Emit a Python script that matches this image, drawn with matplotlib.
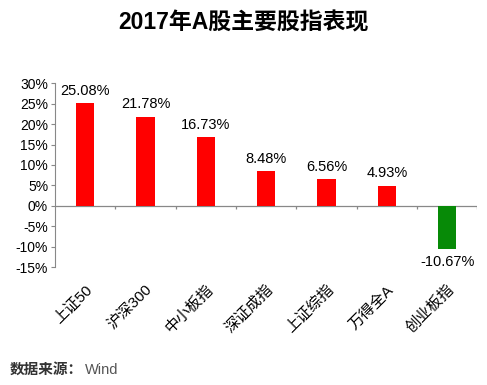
import matplotlib
matplotlib.use('Agg')
import matplotlib.pyplot as plt
import numpy as np
from matplotlib.ticker import FuncFormatter

# 数据
categories = ['上证50', '沪深300', '中小板指', '深证成指', '上证综指', '万得全A', '创业板指']
returns = [25.08, 21.78, 16.73, 8.48, 6.56, 4.93, -10.67]

plt.rcParams['font.family'] = ['Liberation Sans', 'Noto Sans CJK SC', 'DejaVu Sans']

fig = plt.figure(figsize=(4.87, 3.85), dpi=100)
ax = fig.add_axes([0.113, 0.306, 0.867, 0.478])

x = np.arange(len(categories))
colors = ['#ff0000' if v >= 0 else '#078a07' for v in returns]
ax.bar(x, returns, width=0.3, color=colors, zorder=2)

for xi, v in zip(x, returns):
    if v >= 0:
        ax.text(xi, v + 1.3, f'{v:.2f}%', ha='center', va='bottom', fontsize=10.5)
    else:
        ax.text(xi, v - 1.3, f'{v:.2f}%', ha='center', va='top', fontsize=10.5)

# 零轴和分类间隔刻度
ax.axhline(0, color='#888888', linewidth=0.9, zorder=1)
bounds = np.arange(len(categories)) + 0.5
ax.vlines(bounds, -0.7, 0, color='#888888', linewidth=0.9)

ax.set_xlim(-0.5, len(categories) - 0.5)
ax.set_ylim(-15, 30)
ax.set_yticks(np.arange(-15, 31, 5))
ax.yaxis.set_major_formatter(FuncFormatter(lambda v, p: f'{int(v)}%'))
ax.tick_params(axis='y', labelsize=10, length=3, color='#888888', pad=2)

ax.set_xticks(x)
ax.set_xticklabels(categories, rotation=45, ha='right', rotation_mode='anchor', fontsize=11)
ax.tick_params(axis='x', length=0, pad=11)

for s in ['top', 'right', 'bottom']:
    ax.spines[s].set_visible(False)
ax.spines['left'].set_color('#888888')

fig.text(0.5, 0.94, '2017年A股主要股指表现', ha='center', va='center',
         fontsize=16.5, fontweight='bold')
fig.text(0.02, 0.04, '数据来源：', ha='left', va='center', fontsize=10.5,
         color='#333333', fontweight='bold')
fig.text(0.175, 0.04, 'Wind', ha='left', va='center', fontsize=10.5, color='#555555')

fig.savefig('out.png', dpi=100)
